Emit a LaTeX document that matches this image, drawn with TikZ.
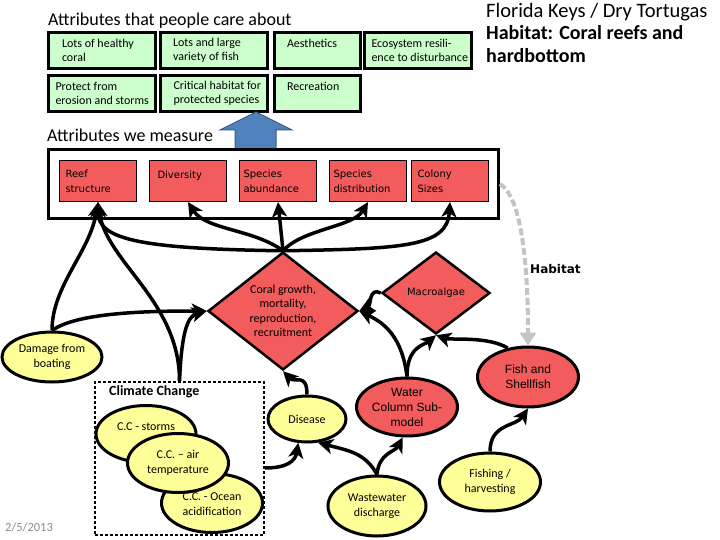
\documentclass[tikz,border=0pt]{standalone}
\usepackage{fontspec}
\setmainfont{Carlito}
\newfontfamily\arialf{Liberation Sans}
\newfontfamily\dvs{DejaVu Sans}
\usetikzlibrary{shapes.geometric,arrows.meta}
\definecolor{gfill}{RGB}{204,255,204}
\definecolor{rfill}{RGB}{242,92,92}
\definecolor{yfill}{RGB}{255,255,153}
\definecolor{bfill}{RGB}{79,129,189}
\definecolor{bline}{RGB}{56,93,138}
\definecolor{dgray}{RGB}{196,196,196}
\definecolor{dategray}{RGB}{140,140,140}
\newcommand\glin[3]{\makebox[#1][l]{\hspace*{#2}#3}}
\begin{document}
\begin{tikzpicture}[x=1pt,y=-1pt,
  gbox/.style={draw, line width=3pt, fill=gfill, align=left, minimum height=36pt,
    inner xsep=3pt, font=\fontsize{12}{14.5}\selectfont},
  rbox/.style={draw, line width=1.2pt, fill=rfill, align=left, minimum width=77pt, minimum height=41pt,
    text width=65pt, inner xsep=6pt, font=\dvs\fontsize{10}{15}\selectfont},
  yell/.style={ellipse, draw, line width=3pt, fill=yfill, inner sep=0pt, align=center,
    font=\fontsize{12}{14.5}\selectfont},
  rell/.style={ellipse, draw, line width=3pt, fill=rfill, inner sep=0pt, align=center,
    font=\arialf\fontsize{12}{15}\selectfont},
  dia/.style={diamond, draw, line width=2.5pt, fill=rfill, inner sep=0pt, align=center},
  arr/.style={line width=3.5pt, -{Stealth[length=15pt,width=15pt,inset=4pt]}},
  ttl/.style={anchor=west, inner sep=0pt, font=\fontsize{18}{21}\selectfont}
]
\useasboundingbox (0,0) rectangle (720,540);

% titles
\node[ttl] (t1) at (48,21) {Attributes that people care about};
\node[anchor=west, inner sep=0pt, font=\fontsize{20.5}{23}\selectfont] (t2) at (486,12) {Florida Keys / Dry Tortugas};
\node[anchor=north west, inner sep=0pt, align=left, font=\bfseries\fontsize{20}{23.5}\selectfont] (t3) at (486,25) {Habitat: Coral reefs and\\hardbottom};
\node[ttl] (t4) at (47,135) {Attributes we measure};

% green boxes
\node[gbox, minimum width=107pt] (g1) at (102,50.5) {\glin{101pt}{10.5pt}{Lots of healthy}\\\glin{101pt}{10.5pt}{coral}};
\node[gbox, minimum width=107pt] (g2) at (214,50.5) {\glin{101pt}{9.5pt}{Lots and large}\\\glin{101pt}{9.5pt}{variety of fish}};
\node[gbox, minimum width=86pt] (g3) at (317.5,50.5) {\glin{80pt}{9.5pt}{Aesthetics}\\\mbox{}};
\node[gbox, minimum width=107pt] (g4) at (418,50.5) {\glin{101pt}{4pt}{Ecosystem resili-}\\\glin{101pt}{4pt}{ence to disturbance}};
\node[gbox, minimum width=107pt] (g5) at (102,93.5) {\glin{101pt}{4pt}{Protect from}\\\glin{101pt}{4pt}{erosion and storms}};
\node[gbox, minimum width=107pt] (g6) at (214,93.5) {\glin{101pt}{10pt}{Critical habitat for}\\\glin{101pt}{10pt}{protected species}};
\node[gbox, minimum width=86pt] (g7) at (317.5,93.5) {\glin{80pt}{9.5pt}{Recreation}\\\mbox{}};

% blue block arrow
\draw[fill=bfill, draw=bline, line width=1pt] (256,112) -- (292,130) -- (276,130) -- (276,149) -- (235,149) -- (235,130) -- (220,130) -- cycle;

% measure box
\node[draw, line width=3pt, fill=white, minimum width=450pt, minimum height=69pt] (meas) at (273.5,184) {};
\node[rbox] (reef) at (98,181) {Reef\\structure};
\node[rbox, text width=61pt, inner xsep=8pt] (div) at (188,181) {Diversity\\[-3pt]\mbox{}};
\node[rbox, text width=69pt, inner xsep=4pt] (abund) at (278,181) {Species\\abundance};
\node[rbox, text width=69pt, inner xsep=4pt] (dist) at (368,181) {Species\\distribution};
\node[rbox] (col) at (450,181) {Colony\\Sizes};

% diamonds
\node[dia, minimum width=150pt, minimum height=110pt, font=\fontsize{12}{14.3}\selectfont] (coral) at (283,311) {Coral growth,\\mortality,\\reproduction,\\recruitment};
\node[dia, minimum width=108pt, minimum height=82pt, font=\dvs\fontsize{10}{12}\selectfont] (macro) at (436,293) {Macroalgae};

\node[anchor=west, inner sep=0pt, font=\dvs\bfseries\fontsize{12}{14}\selectfont] (hablab) at (530,269) {Habitat};

% climate change box
\node[draw, line width=2.5pt, dash pattern=on 3pt off 2pt, minimum width=169pt, minimum height=153pt] (ccbox) at (179.5,458.5) {};
\node[anchor=west, inner sep=0pt, font=\bfseries\fontsize{14}{16}\selectfont] (cclab) at (109,392) {Climate Change};
\coordinate (ccr) at (265,468);

% ellipses
\node[yell, minimum width=100pt, minimum height=50pt] (boat) at (52,357) {Damage from\\boating};
\node[yell, minimum width=100pt, minimum height=57pt] (storms) at (146,434) {C.C - storms\\\mbox{}};
\node[yell, minimum width=101pt, minimum height=59pt] (ocean) at (212,503) {\mbox{}\\[-4pt]C.C. - Ocean\\acidification};
\node[yell, minimum width=101pt, minimum height=59pt] (air) at (178,463) {C.C. -- air\\temperature};
\node[yell, minimum width=78pt, minimum height=46pt] (disease) at (307,419) {Disease};
\node[yell, minimum width=98pt, minimum height=60pt] (waste) at (377,506) {Wastewater\\discharge};
\node[yell, minimum width=101pt, minimum height=58pt] (fishing) at (490,482) {Fishing /\\harvesting};
\node[rell, minimum width=101pt, minimum height=58pt] (water) at (407,407) {Water\\Column Sub-\\model};
\node[rell, minimum width=101pt, minimum height=60pt] (fish) at (528,377) {Fish and\\Shellfish};

\node[anchor=west, inner sep=0pt, text=dategray, font=\fontsize{12.5}{14}\selectfont] (date) at (5,527) {2/5/2013};

% connectors
\draw[arr] (coral.north) .. controls +(-140,-2) and +(0,38) .. (reef.south);
\draw[arr] (coral.north) .. controls +(-30,-22) and +(18,28) .. (div.south);
\draw[arr] (coral.north) -- (abund.south);
\draw[arr] (coral.north) .. controls +(20,-22) and +(-15,25) .. (dist.south);
\draw[arr] (coral.north) .. controls +(120,-2) and +(-3,45) .. (col.south);
\draw[arr] (boat.north) .. controls +(0,-45) and +(-8,50) .. (reef.south);
\draw[arr] (boat.north) .. controls +(25,-18) and +(-60,0) .. (coral.west);
\draw[arr] (ccbox.north) .. controls +(0,-80) and +(8,60) .. (reef.south);
\draw[arr] (ccbox.north) .. controls +(2,-45) and +(-20,5) .. (coral.west);
\draw[arr] (ccr) .. controls +(22,0) and +(-3,18) .. (disease.250);
\draw[arr] (disease.north) .. controls +(0,-22) and +(12,12) .. (coral.south);
\draw[arr] (waste.north) .. controls +(-12,-22) and +(30,8) .. (disease.295);
\draw[arr] (waste.north) .. controls +(2,-22) and +(-8,15) .. (water.262);
\draw[arr] (water.north) .. controls +(-5,-40) and +(25,12) .. (coral.east);
\draw[arr] (water.north) .. controls +(0,-30) and +(-12,10) .. (macro.south);
\draw[arr] (macro.west) .. controls +(-12,-6) and +(12,-6) .. (coral.east);
\draw[arr] (fish.125) .. controls +(-20,-12) and +(15,5) .. (macro.south);
\draw[arr] (fishing.north) .. controls +(0,-28) and +(-12,18) .. (fish.south);
\draw[line width=4pt, draw=dgray, dash pattern=on 7pt off 3pt, -{Triangle[length=13pt,width=16pt,fill=dgray]}]
  (meas.east) .. controls +(20,12) and +(0,-90) .. (fish.north);
\end{tikzpicture}
\end{document}
